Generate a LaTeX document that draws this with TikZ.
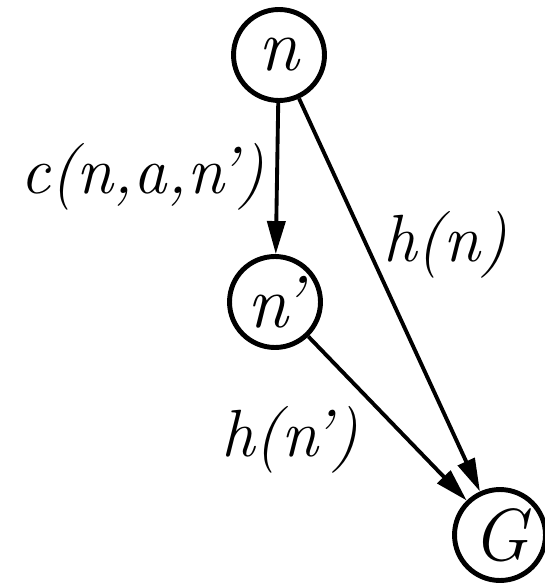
\documentclass[tikz,border=0pt]{standalone}
\usepackage{fontspec}
\usetikzlibrary{arrows.meta}
\begin{document}
\begin{tikzpicture}[x=0.02cm,y=-0.02cm,
  font=\fontsize{38}{44}\selectfont\itshape,
  state/.style={circle,draw,line width=2.8pt,minimum size=1.82cm,inner sep=0pt,font=\fontsize{42}{48}\selectfont\itshape},
  cost/.style={inner sep=0pt},
  arc/.style={line width=2.2pt,-{Triangle[length=0.66cm,width=0.36cm]}}]
  \useasboundingbox (0,0) rectangle (544,584);

  \node[state] (n)  at (279,55)  {n};
  \node[state] (n1) at (275,302) {n’};
  \node[state] (G)  at (500,535) {G};

  \node[cost] (cl)  at (142,177) {c(n,a,n’)};
  \node[cost] (hn)  at (445,245) {h(n)};
  \node[cost] (hn1) at (290,440) {h(n’)};

  \draw[arc] (n) -- (n1);
  \draw[arc] (n) -- (G);
  \draw[arc] (n1) -- (G);
\end{tikzpicture}
\end{document}
